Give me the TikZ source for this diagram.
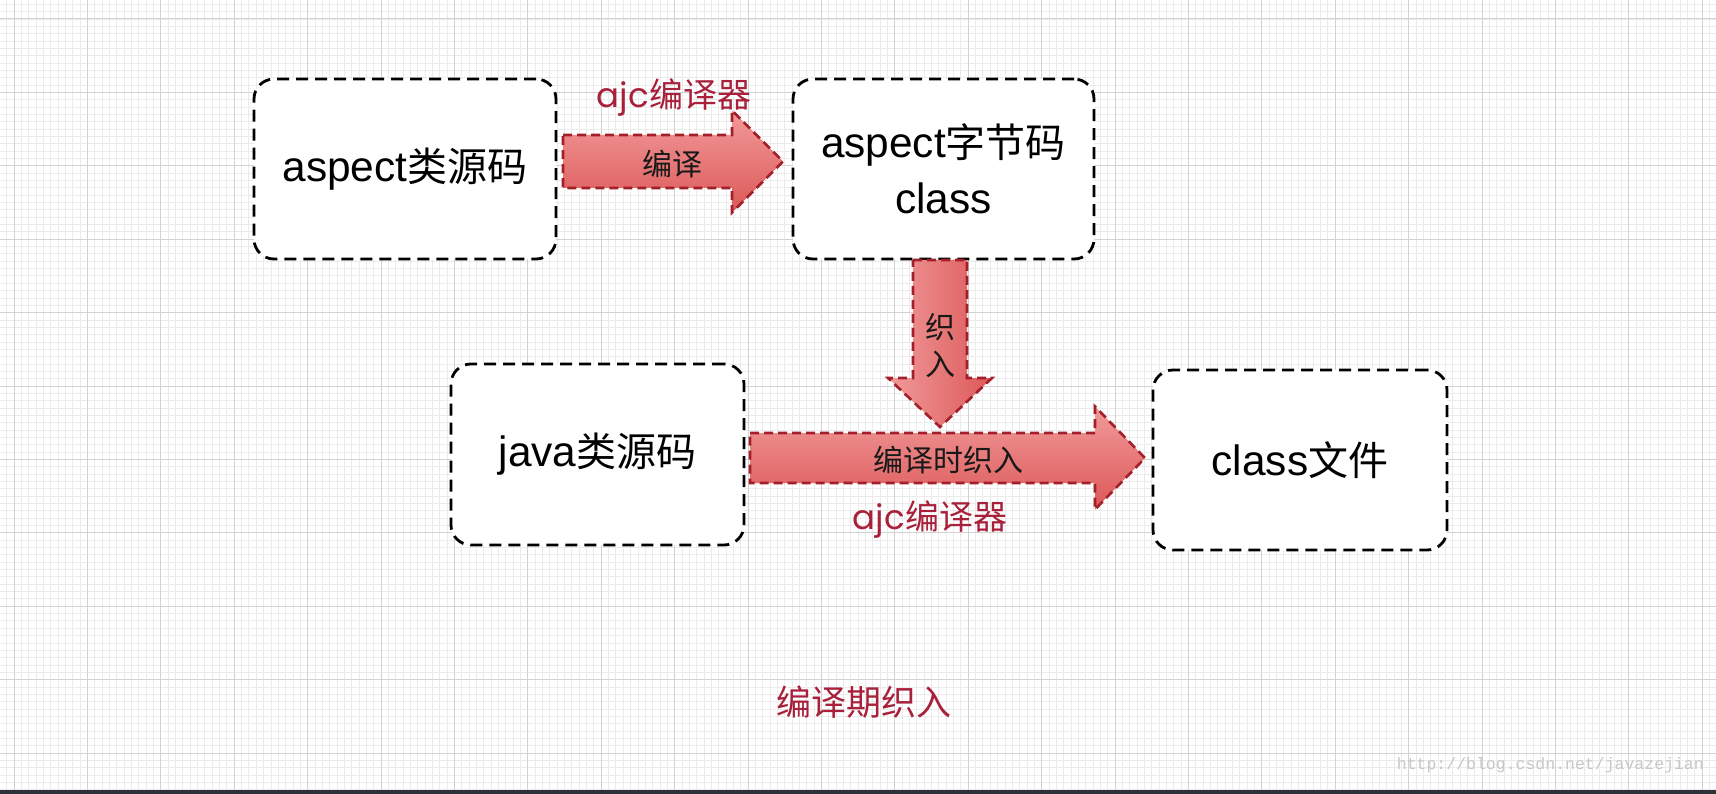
\documentclass[tikz,border=0pt]{standalone}
\usepackage{fontspec}
\setmainfont{Liberation Sans}[Scale=1.06]
\newfontfamily\cjk{Noto Sans CJK SC}
\newfontfamily\geo{Poppins}
\newfontfamily\wmfont{Liberation Mono}
\definecolor{lblred}{HTML}{A8203A}
\definecolor{arrowedge}{HTML}{A3202A}
\definecolor{arrowlight}{HTML}{F29A9A}
\definecolor{arrowdark}{HTML}{DC5858}
\definecolor{minorgrid}{HTML}{EBEBEB}
\definecolor{majorgrid}{HTML}{D2D2D2}
\definecolor{barcol}{HTML}{2F3339}
\newcommand{\zh}[1]{{\cjk #1}}
% right-pointing block arrow: start x, centre y, tip x, half body, half head, head length
\newcommand{\rblock}[7]{\path[#7] (#1,#2-#4) -- (#3-#6,#2-#4) -- (#3-#6,#2-#5) -- (#3,#2) -- (#3-#6,#2+#5) -- (#3-#6,#2+#4) -- (#1,#2+#4) -- cycle;}
% down-pointing block arrow: centre x, start y, tip y, half body, half head, head length
\newcommand{\dblock}[7]{\path[#7] (#1-#4,#2) -- (#1+#4,#2) -- (#1+#4,#3-#6) -- (#1+#5,#3-#6) -- (#1,#3) -- (#1-#5,#3-#6) -- (#1-#4,#3-#6) -- cycle;}
\begin{document}
\begin{tikzpicture}[x=1pt,y=-1pt,
  boxstyle/.style={draw=black, fill=white, line width=2.8pt, dash pattern=on 12pt off 7pt,
    rounded corners=20pt, inner sep=0pt, align=center, font=\fontsize{40}{56}\selectfont},
  harrow/.style={draw=arrowedge, line width=2.6pt, dash pattern=on 9pt off 5pt,
    top color=arrowlight, bottom color=arrowdark},
  varrow/.style={draw=arrowedge, line width=2.6pt, dash pattern=on 9pt off 5pt,
    left color=arrowlight, right color=arrowdark},
  inlbl/.style={inner sep=0pt, text=black!90, font=\fontsize{30}{37}\selectfont\cjk, align=center},
  redlbl/.style={inner sep=0pt, text=lblred, font=\fontsize{34}{40}\selectfont}]
\useasboundingbox (0,0) rectangle (1716,794);
\fill[white] (0,0) rectangle (1716,790);
% grid
\foreach \i in {0,...,233} \draw[minorgrid, line width=0.8pt] (6.66+\i*7.34,0) -- (6.66+\i*7.34,790);
\foreach \i in {0,...,107} \draw[minorgrid, line width=0.8pt] (0,4.32+\i*7.34) -- (1716,4.32+\i*7.34);
\foreach \i in {0,...,23} \draw[majorgrid, line width=1pt] (14+\i*73.4,0) -- (14+\i*73.4,790);
\foreach \i in {0,...,10} \draw[majorgrid, line width=1pt] (0,19+\i*73.4) -- (1716,19+\i*73.4);
\fill[barcol] (0,790) rectangle (1716,794);
% boxes
\node[boxstyle, minimum width=302pt, minimum height=180pt] (b1) at (405,169) {aspect\zh{类源码}};
\node[boxstyle, minimum width=301pt, minimum height=180pt] (b2) at (943.5,169) {aspect\zh{字节码}\\class};
\node[boxstyle, minimum width=293pt, minimum height=181pt] (b3) at (597.5,454.5) {java\zh{类源码}};
\node[boxstyle, minimum width=294pt, minimum height=180pt] (b4) at (1300,460) {class\zh{文件}};
% block arrows
\rblock{563}{161.5}{783}{26.5}{51}{51}{harrow}
\rblock{750}{458}{1145}{25}{51.5}{50}{harrow}
\dblock{940}{260}{427}{27}{52}{49}{varrow}
% labels
\node[inlbl] (l1) at (672,164) {编译};
\node[inlbl] (l2) at (940,346) {织\\入};
\node[inlbl] (l3) at (948,460) {编译时织入};
\node[redlbl] (r1) at (674,98) {{\geo ajc}\zh{编译器}};
\node[redlbl] (r2) at (930,520) {{\geo ajc}\zh{编译器}};
\node[inner sep=0pt, text=lblred, font=\fontsize{35}{40}\selectfont\cjk] (cap) at (864,702) {编译期织入};
\node[inner sep=0pt, anchor=east, text=black!22, font=\fontsize{16.5}{20}\selectfont\wmfont] (wm) at (1704,765) {http://blog.csdn.net/javazejian};
\end{tikzpicture}
\end{document}
